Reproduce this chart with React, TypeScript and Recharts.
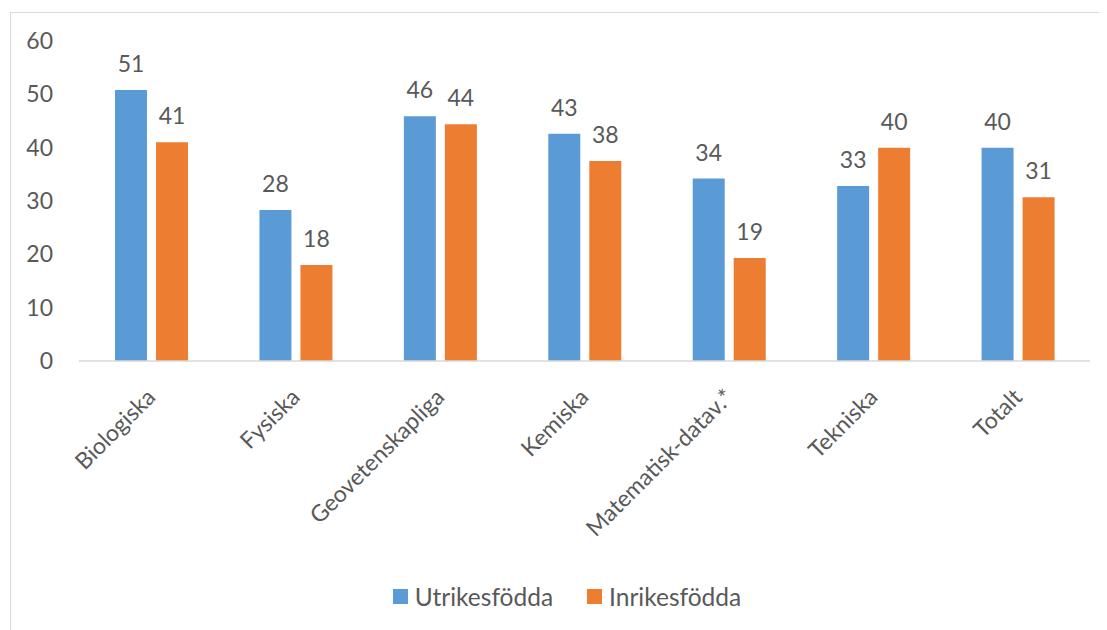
import { BarChart, Bar, XAxis, YAxis, LabelList } from 'recharts'

const categories = [
  'Biologiska',
  'Fysiska',
  'Geovetenskapliga',
  'Kemiska',
  'Matematisk-datav.*',
  'Tekniska',
  'Totalt',
]
const utrikes = [50.8, 28.3, 45.9, 42.6, 34.2, 32.8, 40.0]
const inrikes = [41.0, 18.0, 44.4, 37.5, 19.3, 40.0, 30.7]
const yTicks = [0, 10, 20, 30, 40, 50, 60]

const seriesNames = ['Utrikesfödda', 'Inrikesfödda']
const colors = ['#5B9BD5', '#ED7D31']

const data = categories.map((name, i) => ({
  name,
  [seriesNames[0]]: utrikes[i],
  [seriesNames[1]]: inrikes[i],
}))

const font = 'Lato, "Open Sans", sans-serif'
const ink = '#595959'

function CategoryTick({ x, y, payload }: any) {
  return (
    <g transform={`translate(${x},${y + 24})`}>
      <text
        x={0}
        y={0}
        dy="0.35em"
        textAnchor="end"
        transform="rotate(-45)"
        fill={ink}
        fontSize={23}
        fontFamily={font}
      >
        {payload.value}
      </text>
    </g>
  )
}

export default function App() {
  return (
    <div
      style={{
        position: 'relative',
        marginLeft: 2,
        marginTop: 4,
        width: 1120,
        height: 640,
        borderTop: '1px solid #d9d9d9',
        borderLeft: '1px solid #d9d9d9',
        fontFamily: font,
      }}
    >
      <BarChart
        width={1100}
        height={620}
        data={data}
        margin={{ top: 28, right: 21, left: 0, bottom: 92 }}
        barSize={32}
        barGap={9}
      >
        <XAxis
          dataKey="name"
          height={180}
          interval={0}
          tick={<CategoryTick />}
          tickLine={false}
          axisLine={{ stroke: '#d9d9d9', strokeWidth: 1.5 }}
        />
        <YAxis
          width={68}
          domain={[0, 60]}
          ticks={yTicks}
          interval={0}
          axisLine={false}
          tickLine={false}
          tickSize={0}
          tickMargin={26}
          tick={{ fill: ink, fontSize: 23, fontFamily: font }}
        />
        {seriesNames.map((s, i) => (
          <Bar key={s} dataKey={s} fill={colors[i]} isAnimationActive={false}>
            <LabelList
              dataKey={s}
              position="top"
              offset={18}
              formatter={(v: any) => Math.round(Number(v))}
              fill={ink}
              fontSize={23}
              fontFamily={font}
            />
          </Bar>
        ))}
      </BarChart>
      <div
        style={{
          position: 'absolute',
          top: 569,
          left: 6,
          width: 1100,
          display: 'flex',
          justifyContent: 'center',
          gap: 34,
          fontSize: 24.5,
          color: ink,
        }}
      >
        {seriesNames.map((s, i) => (
          <span key={s} style={{ display: 'inline-flex', alignItems: 'center', gap: 7 }}>
            <span style={{ display: 'inline-block', width: 15, height: 15, background: colors[i] }} />
            {s}
          </span>
        ))}
      </div>
    </div>
  )
}
